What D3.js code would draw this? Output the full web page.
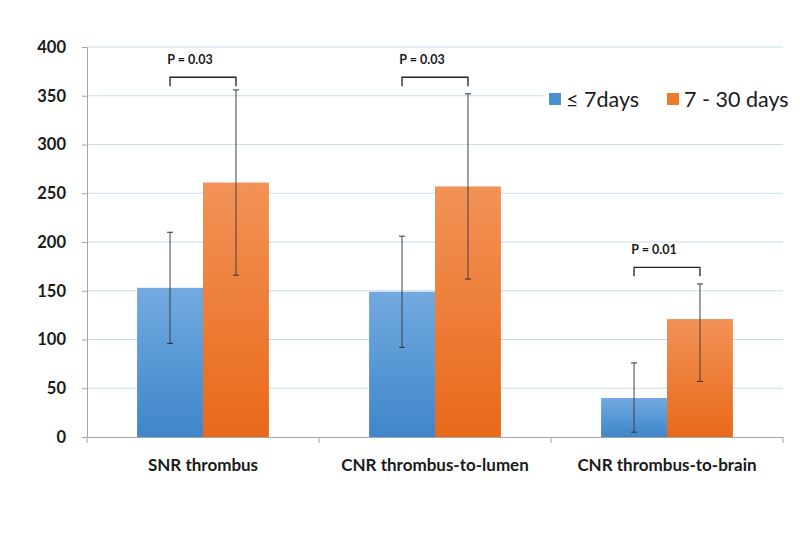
<!DOCTYPE html>
<html><head><meta charset="utf-8">
<script src="https://cdn.jsdelivr.net/npm/d3@7"></script>
<style>body{margin:0;background:#fff;} svg{display:block;}</style>
</head><body>
<svg id="c" width="800" height="535"></svg>
<script>
const categories = ["SNR thrombus", "CNR thrombus-to-lumen", "CNR thrombus-to-brain"];
const seriesNames = ["≤ 7days", "7 - 30 days"];
const early = [153, 149, 40];
const earlyErrUp = [57, 57, 36];
const earlyErrDown = [57, 57, 35];
const late = [261, 257, 121];
const lateErrUp = [95, 95, 36];
const lateErrDown = [95, 95, 64];
const pLabels = ["P = 0.03", "P = 0.03", "P = 0.01"];
const bracketLevel = [369, 369, 174];
const yTicks = [0, 50, 100, 150, 200, 250, 300, 350, 400];

const svg = d3.select("#c");
const L = 87, R = 783, T = 47, B = 437;
const font = "Lato, 'Open Sans', sans-serif";

const x = d3.scaleBand().domain(categories).range([L, R]).paddingInner(0).paddingOuter(0);
const xs = d3.scaleBand().domain([0, 1]).range([0, x.bandwidth()]).paddingInner(0).paddingOuter(0.76);
const y = d3.scaleLinear().domain([0, 400]).range([B, T]);

const defs = svg.append("defs");
const grads = [["gb", "#72aae0", "#3e86ca"], ["go", "#f39257", "#e8691a"]];
grads.forEach(([id, c1, c2]) => {
  const g = defs.append("linearGradient").attr("id", id).attr("x1", 0).attr("y1", 0).attr("x2", 0).attr("y2", 1);
  g.append("stop").attr("offset", "0%").attr("stop-color", c1);
  g.append("stop").attr("offset", "100%").attr("stop-color", c2);
});

// gridlines
svg.append("g").selectAll("line").data(yTicks.filter(d => d > 0)).join("line")
  .attr("x1", L).attr("x2", R).attr("y1", d => y(d)).attr("y2", d => y(d))
  .attr("stroke", "#c9dcf0").attr("stroke-width", 1);

// y axis
const ya = svg.append("g").attr("transform", `translate(${L},0)`)
  .call(d3.axisLeft(y).tickValues(yTicks).tickSize(5).tickPadding(16));
ya.select(".domain").attr("stroke", "#a6a6a6");
ya.selectAll(".tick line").attr("stroke", "#a6a6a6");
ya.selectAll("text").attr("font-family", font).attr("font-weight", "bold").attr("font-size", 16.5).attr("fill", "#1a1a1a");

// x axis
const xa = svg.append("g").attr("transform", `translate(0,${B})`)
  .call(d3.axisBottom(x).tickSize(0).tickPadding(22));
xa.select(".domain").attr("stroke", "#a6a6a6");
xa.selectAll("text").attr("font-family", font).attr("font-weight", "bold").attr("font-size", 17).attr("fill", "#1a1a1a");
const bounds = [L].concat(categories.map(c => x(c) + x.bandwidth()));
svg.append("g").selectAll("line").data(bounds).join("line")
  .attr("x1", d => d).attr("x2", d => d).attr("y1", B).attr("y2", B + 6)
  .attr("stroke", "#a6a6a6");

// bars
const data = categories.map((c, i) => [
  {c, s: 0, v: early[i], up: earlyErrUp[i], dn: earlyErrDown[i]},
  {c, s: 1, v: late[i], up: lateErrUp[i], dn: lateErrDown[i]}
]);
const gg = svg.append("g").selectAll("g").data(data).join("g")
  .attr("transform", d => `translate(${x(d[0].c)},0)`);
gg.selectAll("rect").data(d => d).join("rect")
  .attr("x", d => xs(d.s)).attr("width", xs.bandwidth())
  .attr("y", d => y(d.v)).attr("height", d => y(0) - y(d.v))
  .attr("fill", d => d.s === 0 ? "url(#gb)" : "url(#go)");

// error bars
const cx = d => xs(d.s) + xs.bandwidth() / 2;
const eb = gg.selectAll("g.eb").data(d => d).join("g").attr("class", "eb");
eb.append("line")
  .attr("x1", cx).attr("x2", cx)
  .attr("y1", d => y(d.v + d.up)).attr("y2", d => y(d.v - d.dn))
  .attr("stroke", "#404040").attr("stroke-width", 1);
eb.append("line")
  .attr("x1", d => cx(d) - 3).attr("x2", d => cx(d) + 3)
  .attr("y1", d => y(d.v + d.up)).attr("y2", d => y(d.v + d.up))
  .attr("stroke", "#303030").attr("stroke-width", 1);
eb.append("line")
  .attr("x1", d => cx(d) - 3).attr("x2", d => cx(d) + 3)
  .attr("y1", d => y(d.v - d.dn)).attr("y2", d => y(d.v - d.dn))
  .attr("stroke", "#303030").attr("stroke-width", 1);

// brackets
const br = svg.append("g").selectAll("g").data(categories).join("g");
br.append("path")
  .attr("d", (c, i) => {
    const x1 = x(c) + xs(0) + xs.bandwidth() / 2, x2 = x(c) + xs(1) + xs.bandwidth() / 2;
    const yy = y(bracketLevel[i]);
    return `M${x1},${yy + 9}V${yy}H${x2}V${yy + 9}`;
  })
  .attr("fill", "none").attr("stroke", "#222").attr("stroke-width", 1.3);
br.append("text")
  .attr("x", c => x(c) + x.bandwidth() / 2 - 13)
  .attr("y", (c, i) => y(bracketLevel[i]) - 13)
  .attr("text-anchor", "middle")
  .attr("font-family", font).attr("font-weight", "bold").attr("font-size", 12.5).attr("fill", "#1a1a1a")
  .text((c, i) => pLabels[i]);

// legend
const lg = svg.append("g");
lg.append("rect").attr("x", 544).attr("y", 84).attr("width", 256).attr("height", 28).attr("fill", "#fff");
const legX = [549, 667];
seriesNames.forEach((n, i) => {
  lg.append("rect").attr("x", legX[i]).attr("y", 93).attr("width", 12).attr("height", 12)
    .attr("fill", i === 0 ? "#4a90d2" : "#ee7a2a");
  lg.append("text").attr("x", legX[i] + 17).attr("y", 107)
    .attr("font-family", font).attr("font-size", 21.5).attr("fill", "#1a1a1a").text(n);
});
</script>
</body></html>
